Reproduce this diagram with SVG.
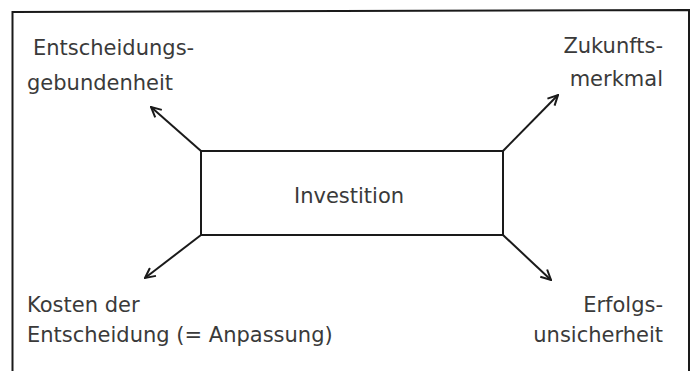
<svg xmlns="http://www.w3.org/2000/svg" width="692" height="371" viewBox="0 0 692 371">
<style>
.lbl{font-family:"DejaVu Sans","Liberation Sans",sans-serif;font-size:21px;fill:#3a3a3a}
.end{text-anchor:end}
.ln{stroke:#1a1a1a;stroke-width:2;fill:none}
</style>
<defs>
<marker id="ah" viewBox="0 0 12 12" refX="11" refY="6" markerWidth="12" markerHeight="12" markerUnits="userSpaceOnUse" orient="auto">
<path d="M1,1 L11,6 L1,11" fill="none" stroke="#1a1a1a" stroke-width="2"/>
</marker>
</defs>
<rect width="692" height="371" fill="#ffffff"/>
<g id="frame">
<path class="ln" d="M12.5,371 L12.5,12 L689,10 L689,371"/>
</g>
<g id="investition">
<rect class="ln" x="201" y="151" width="302" height="84"/>
<text class="lbl" x="349" y="203" text-anchor="middle">Investition</text>
</g>
<g id="entscheidungsgebundenheit">
<text class="lbl" x="33" y="55">Entscheidungs-</text>
<text class="lbl" x="27" y="90">gebundenheit</text>
</g>
<g id="zukunftsmerkmal">
<text class="lbl end" x="663" y="53">Zukunfts-</text>
<text class="lbl end" x="663" y="86">merkmal</text>
</g>
<g id="kosten">
<text class="lbl" x="27" y="312">Kosten der</text>
<text class="lbl" x="27" y="342">Entscheidung (= Anpassung)</text>
</g>
<g id="erfolgsunsicherheit">
<text class="lbl end" x="663" y="312">Erfolgs-</text>
<text class="lbl end" x="663" y="342">unsicherheit</text>
</g>
<g id="connectors">
<line class="ln" x1="201" y1="151" x2="151" y2="107" marker-end="url(#ah)"/>
<line class="ln" x1="503" y1="151" x2="558" y2="95" marker-end="url(#ah)"/>
<line class="ln" x1="201" y1="235" x2="145" y2="278" marker-end="url(#ah)"/>
<line class="ln" x1="503" y1="235" x2="551" y2="280" marker-end="url(#ah)"/>
</g>
</svg>
